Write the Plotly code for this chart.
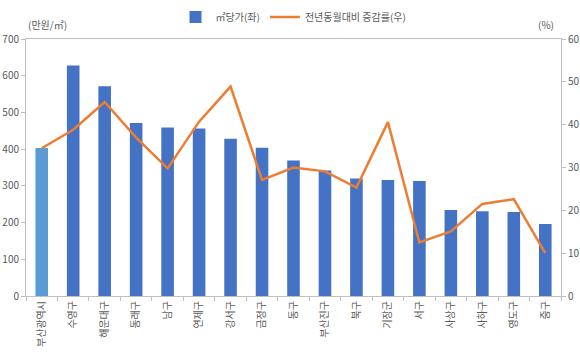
import plotly.graph_objects as go

categories = ["부산광역시", "수영구", "해운대구", "동래구", "남구", "연제구", "강서구", "금정구",
              "동구", "부산진구", "북구", "기장군", "서구", "사상구", "사하구", "영도구", "중구"]
price = [403, 628, 571, 471, 459, 456, 428, 404, 369, 342, 320, 316, 313, 234, 231, 229, 196]
change = [34.5, 38.8, 45.3, 37.0, 29.8, 40.7, 48.9, 27.1, 30.0, 29.1, 25.3, 40.6, 12.5, 15.1, 21.5, 22.6, 10.0]

FONT = "Noto Sans CJK KR"
GRAY = "#595959"
LINE = "#BFBFBF"

fig = go.Figure()
# city total (highlighted) and districts
fig.add_trace(go.Bar(x=categories[:1], y=price[:1], name="㎡당가(좌)", showlegend=False,
                     marker=dict(color="#5B9BD5", line=dict(width=0)), yaxis="y", width=0.4))
fig.add_trace(go.Bar(x=categories[1:], y=price[1:], name="㎡당가(좌)",
                     marker=dict(color="#4472C4", line=dict(width=0)), yaxis="y", width=0.4))
fig.add_trace(go.Scatter(x=categories, y=change, name="전년동월대비 증감률(우)", mode="lines",
                         line=dict(color="#ED7D31", width=2.5), yaxis="y2"))

fig.update_layout(
    width=580, height=360,
    margin=dict(l=26, r=19, t=39, b=64, autoexpand=False),
    paper_bgcolor="white", plot_bgcolor="white",
    font=dict(family=FONT, size=10, color=GRAY),
    barmode="overlay",
    showlegend=True,
    legend=dict(orientation="h", x=0.5, xanchor="center", y=1 - 17 / 360, yref="container", yanchor="middle",
                font=dict(size=10, color=GRAY), bgcolor="rgba(0,0,0,0)"),
    xaxis=dict(categoryorder="array", categoryarray=categories, automargin=False,
               showline=True, linecolor=LINE, linewidth=1, mirror=True, ticks="outside", tickson="boundaries",
               ticklen=4, tickcolor=LINE, tickangle=-90, showgrid=False, tickfont=dict(size=10, color=GRAY)),
    yaxis=dict(range=[0, 700], dtick=100, automargin=False, showline=True, linecolor=LINE, ticks="outside",
               ticklen=4, tickcolor=LINE, showgrid=False, zeroline=False, tickfont=dict(size=10, color=GRAY)),
    yaxis2=dict(range=[0, 60], dtick=10, overlaying="y", side="right", automargin=False, showline=True,
                linecolor=LINE, ticks="outside", ticklen=4, tickcolor=LINE, showgrid=False, zeroline=False,
                tickfont=dict(size=10, color=GRAY)),
)
fig.add_annotation(text="(만원/㎡)", xref="paper", yref="paper", x=0.0, y=1.02, xanchor="left",
                   yanchor="bottom", showarrow=False, font=dict(size=10, color=GRAY))
fig.add_annotation(text="(%)", xref="paper", yref="paper", x=0.99, y=1.02, xanchor="right",
                   yanchor="bottom", showarrow=False, font=dict(size=10, color=GRAY))

fig.write_html("out.html", config={"displayModeBar": False},
               post_script="document.body.style.margin='0px';")
